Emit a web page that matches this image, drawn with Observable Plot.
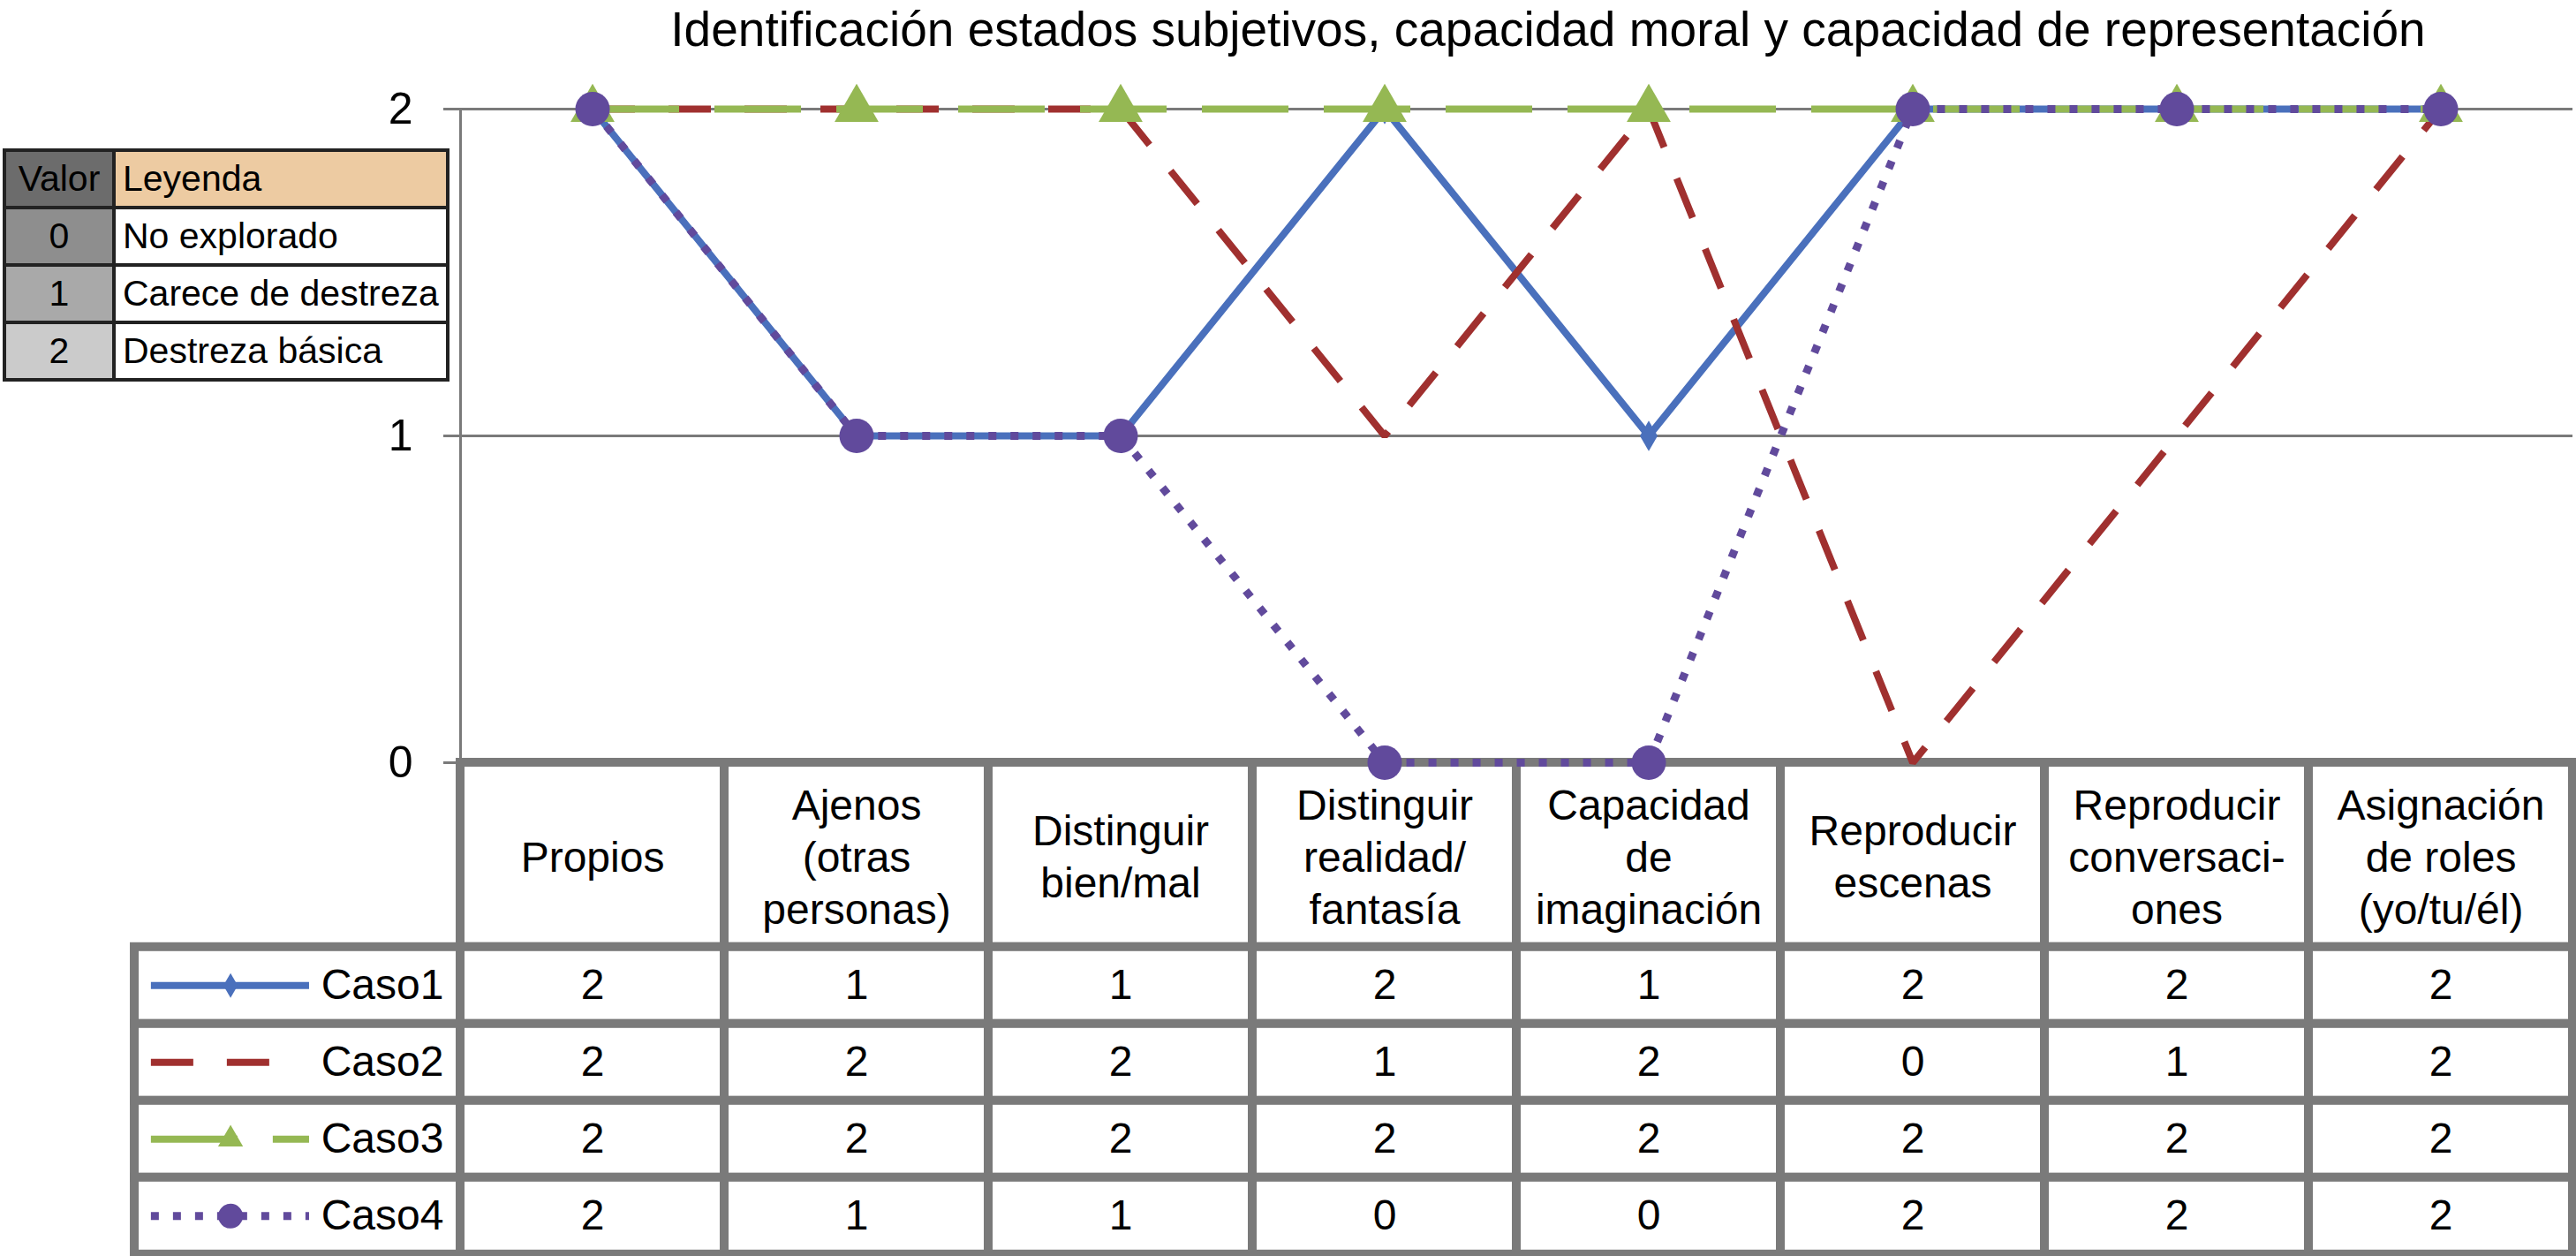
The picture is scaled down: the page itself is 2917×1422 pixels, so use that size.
<!DOCTYPE html>
<html>
<head>
<meta charset="utf-8">
<script src="https://cdn.jsdelivr.net/npm/d3@7"></script>
<script src="https://cdn.jsdelivr.net/npm/@observablehq/plot@0.6"></script>
<style>
  body { margin: 0; background: #fff; font-family: "Liberation Sans", Arial, Helvetica, sans-serif; }
  #wrap { position: relative; width: 2917px; height: 1422px; overflow: hidden; background: #fff; }
  #title { position: absolute; left: 553px; width: 2400px; top: 6px; text-align: center;
           font-size: 55px; line-height: 55px; color: #000; white-space: nowrap; }
  #legend { position: absolute; left: 3px; top: 168px; border-collapse: collapse; z-index: 3;
            font-size: 41px; line-height: 1; color: #000; }
  #legend td { border: 4px solid #222; height: 65px; padding: 0; box-sizing: border-box; }
  #legend td.v { width: 124px; text-align: center; }
  #legend td.l { width: 378px; text-align: left; padding-left: 8px; background: #fff; }
  #chart { position: absolute; left: 0; top: 0; z-index: 2; }
  #table { position: absolute; left: 0; top: 853px; z-index: 1; }
</style>
</head>
<body>
<div id="wrap">
  <div id="title"></div>
  <table id="legend"></table>
  <div id="table"></div>
  <div id="chart"></div>
</div>
<script>
// ---------- data ----------
const titleText = "Identificación estados subjetivos, capacidad moral y capacidad de representación";
const categories = ["Propios", "Ajenos\n(otras\npersonas)", "Distinguir\nbien/mal", "Distinguir\nrealidad/\nfantasía",
  "Capacidad\nde\nimaginación", "Reproducir\nescenas", "Reproducir\nconversaci-\nones", "Asignación\nde roles\n(yo/tu/él)"];
const seriesNames = ["Caso1", "Caso2", "Caso3", "Caso4"];
const caso1 = [2, 1, 1, 2, 1, 2, 2, 2];
const caso2 = [2, 2, 2, 1, 2, 0, 1, 2];
const caso3 = [2, 2, 2, 2, 2, 2, 2, 2];
const caso4 = [2, 1, 1, 0, 0, 2, 2, 2];
const yTicks = [0, 1, 2];
const legendValues = ["0", "1", "2"];
const legendLabels = ["No explorado", "Carece de destreza", "Destreza básica"];

// ---------- styles ----------
const seriesValues = [caso1, caso2, caso3, caso4];
const styles = [
  {color: "#4A70BC", width: 8, dash: null, symbol: "diamond", r: 10.5, legendR: 8.5, swEnd: -0.572},
  {color: "#A0302F", width: 8, dash: "48,38", symbol: null, swEnd: -0.706},
  {color: "#95B853", width: 8, dash: "98,40", symbol: "triangle", r: 18.5, legendR: 10.5, swEnd: -0.572},
  {color: "#614A9C", width: 9, dash: "9,16", symbol: "circle", r: 19.5, legendR: 14, swEnd: -0.572}
];
const gray = "#7a7a7a";
const font = "'Liberation Sans', Arial, Helvetica, sans-serif";

// ---------- title ----------
document.getElementById("title").textContent = titleText;

// ---------- value legend (top-left) ----------
const legendColors = ["#8e8e8e", "#a9a9a9", "#cbcbcb"];
const leg = d3.select("#legend");
const hdr = leg.append("tr");
hdr.append("td").attr("class", "v").style("background", "#6c6c6c").text("Valor");
hdr.append("td").attr("class", "l").style("background", "#EDCBA2").text("Leyenda");
legendValues.forEach((v, i) => {
  const tr = leg.append("tr");
  tr.append("td").attr("class", "v").style("background", legendColors[i]).text(v);
  tr.append("td").attr("class", "l").text(legendLabels[i]);
});

// ---------- main chart ----------
const nCat = categories.length;
const lineMarks = [];
seriesValues.forEach((vals, s) => {
  const st = styles[s];
  const pts = vals.map((v, i) => ({x: i + 0.5, y: v}));
  lineMarks.push(Plot.line(pts, {x: "x", y: "y", stroke: st.color, strokeWidth: st.width,
    strokeDasharray: st.dash, strokeLinejoin: "miter", strokeLinecap: "butt"}));
  if (st.symbol) lineMarks.push(Plot.dot(pts, {x: "x", y: "y", symbol: st.symbol, r: st.r,
    fill: st.color, stroke: "none"}));
});

const chart = Plot.plot({
  width: 2917, height: 890,
  marginTop: 123, marginBottom: 27, marginLeft: 521, marginRight: 4,
  style: {background: "transparent", overflow: "visible", fontFamily: font, color: "black"},
  x: {type: "linear", domain: [0, nCat], axis: null},
  y: {type: "linear", domain: [0, 2], axis: null},
  marks: [
    Plot.ruleY(yTicks, {stroke: gray, strokeWidth: 3}),
    Plot.ruleX([0], {y1: 0, y2: 2, stroke: gray, strokeWidth: 3}),
    Plot.axisY({ticks: yTicks, tickSize: 19, tickPadding: 35, fontSize: 50, stroke: gray,
      strokeWidth: 3, fill: "black", label: null, tickFormat: d => String(d)}),
    ...lineMarks
  ]
});
document.getElementById("chart").append(chart);

// ---------- data table ----------
const headerUnits = 2.4;          // header row height in row units
const labelColStart = -1.234;     // left edge of label column (column units)
const headerCells = categories.map((c, i) => ({i, label: c}));
const bodyCells = seriesNames.flatMap((name, r) => seriesValues[r].map((v, i) => ({r, i, v})));
const rowsInfo = seriesNames.map((name, r) => ({name, r}));

const swatchMarks = [];
rowsInfo.forEach(d => {
  const st = styles[d.r];
  const yc = headerUnits + d.r + 0.5;
  swatchMarks.push(Plot.ruleY([d], {y: () => yc, x1: -1.171, x2: st.swEnd, stroke: st.color,
    strokeWidth: st.width, strokeDasharray: st.dash, strokeLinecap: "butt"}));
  if (st.symbol) swatchMarks.push(Plot.dot([d], {x: () => -0.871, y: () => yc, symbol: st.symbol,
    r: st.legendR, fill: st.color, stroke: "none"}));
});

const table = Plot.plot({
  width: 2917, height: 569,
  marginTop: 10, marginBottom: 2, marginLeft: 521, marginRight: 4,
  style: {background: "transparent", overflow: "visible", fontFamily: font, color: "black"},
  x: {type: "linear", domain: [0, nCat], axis: null},
  y: {type: "linear", domain: [0, headerUnits + seriesNames.length], range: [10, 566.8], axis: null},
  marks: [
    Plot.rect(headerCells, {x1: d => d.i, x2: d => d.i + 1, y1: () => 0, y2: () => headerUnits,
      fill: "white", stroke: gray, strokeWidth: 10}),
    Plot.rect(bodyCells, {x1: d => d.i, x2: d => d.i + 1, y1: d => headerUnits + d.r,
      y2: d => headerUnits + d.r + 1, fill: "white", stroke: gray, strokeWidth: 10}),
    Plot.rect(rowsInfo, {x1: () => labelColStart, x2: () => 0, y1: d => headerUnits + d.r,
      y2: d => headerUnits + d.r + 1, fill: "white", stroke: gray, strokeWidth: 10}),
    Plot.text(headerCells, {x: d => d.i + 0.5, y: () => headerUnits / 2, text: "label",
      fontSize: 48, lineHeight: 1.23, fill: "black"}),
    Plot.text(bodyCells, {x: d => d.i + 0.5, y: d => headerUnits + d.r + 0.5, text: d => String(d.v),
      fontSize: 48, fill: "black"}),
    ...swatchMarks,
    Plot.text(rowsInfo, {x: () => -0.528, y: d => headerUnits + d.r + 0.5, text: "name",
      textAnchor: "start", fontSize: 48, fill: "black"})
  ]
});
document.getElementById("table").append(table);
</script>
</body>
</html>
